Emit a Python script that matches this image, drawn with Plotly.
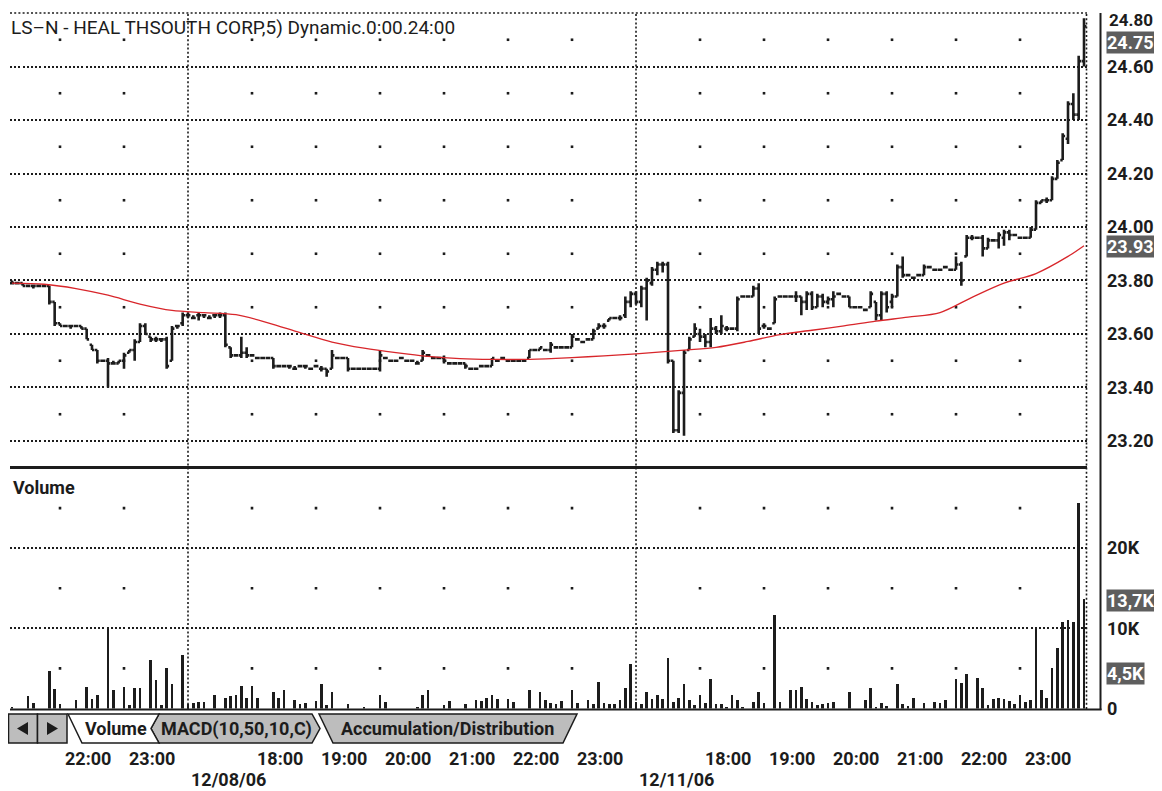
import plotly.graph_objects as go

W, H = 1162, 791
OX, OY = 8, 8  # page body margin of the html page


def xp(px):
    return (px - OX) / W


def yp(py):
    return 1 - (py - OY) / H


# ---------------- data (5-minute bars, index 0..201) ----------------
# day 1 (21:15-23:55), day 2 12/08/06 (17:00-23:55), day 3 12/11/06 (17:00-24:00)
d1_open = [23.79, 23.79, 23.79, 23.78, 23.78, 23.78, 23.78, 23.78, 23.72, 23.64,
           23.63, 23.63, 23.63, 23.63, 23.62, 23.56, 23.54, 23.50, 23.50, 23.49,
           23.49, 23.50, 23.53, 23.54, 23.57, 23.63, 23.59, 23.58, 23.58, 23.58,
           23.50, 23.63, 23.64]
d1_high = [23.80, 23.79, 23.79, 23.78, 23.78, 23.78, 23.78, 23.78, 23.72, 23.64,
           23.63, 23.63, 23.63, 23.63, 23.62, 23.56, 23.54, 23.50, 23.51, 23.50,
           23.50, 23.53, 23.54, 23.58, 23.64, 23.64, 23.59, 23.59, 23.58, 23.59,
           23.63, 23.63, 23.68]
d1_low = [23.79, 23.79, 23.78, 23.78, 23.77, 23.78, 23.78, 23.71, 23.63, 23.63,
          23.63, 23.62, 23.63, 23.62, 23.58, 23.54, 23.49, 23.50, 23.40, 23.49,
          23.49, 23.47, 23.53, 23.50, 23.57, 23.60, 23.57, 23.57, 23.57, 23.47,
          23.50, 23.62, 23.63]
d1_close = [23.79, 23.79, 23.78, 23.78, 23.78, 23.78, 23.78, 23.72, 23.64, 23.63,
            23.63, 23.63, 23.63, 23.62, 23.58, 23.54, 23.50, 23.50, 23.49, 23.49,
            23.50, 23.52, 23.54, 23.57, 23.63, 23.60, 23.58, 23.58, 23.58, 23.48,
            23.62, 23.63, 23.67]

d2_open = [23.67, 23.66, 23.67, 23.67, 23.66, 23.67, 23.67, 23.67, 23.55, 23.52,
           23.52, 23.53, 23.52, 23.51, 23.51, 23.51, 23.51, 23.48, 23.48, 23.48,
           23.47, 23.48, 23.48, 23.47, 23.48, 23.47, 23.47, 23.47, 23.51, 23.51,
           23.51, 23.47, 23.47, 23.47, 23.47, 23.47, 23.47, 23.51, 23.50, 23.50,
           23.51, 23.50, 23.50, 23.49, 23.50, 23.52, 23.51, 23.51, 23.51, 23.49,
           23.49, 23.49, 23.49, 23.47, 23.47, 23.48, 23.48, 23.48, 23.50, 23.51,
           23.50, 23.50, 23.50, 23.50, 23.51, 23.54, 23.54, 23.54, 23.54, 23.55,
           23.55, 23.55, 23.55, 23.58, 23.57, 23.58, 23.58, 23.62, 23.63, 23.65,
           23.66, 23.66, 23.67, 23.72]
d2_high = [23.68, 23.67, 23.68, 23.67, 23.67, 23.67, 23.68, 23.68, 23.55, 23.52,
           23.59, 23.55, 23.52, 23.51, 23.51, 23.51, 23.51, 23.48, 23.48, 23.48,
           23.48, 23.48, 23.48, 23.47, 23.48, 23.48, 23.47, 23.54, 23.51, 23.51,
           23.51, 23.47, 23.47, 23.47, 23.47, 23.47, 23.54, 23.51, 23.50, 23.50,
           23.51, 23.50, 23.50, 23.50, 23.54, 23.52, 23.51, 23.51, 23.52, 23.49,
           23.49, 23.49, 23.49, 23.47, 23.47, 23.48, 23.48, 23.51, 23.50, 23.51,
           23.50, 23.50, 23.50, 23.50, 23.54, 23.54, 23.55, 23.54, 23.57, 23.55,
           23.55, 23.55, 23.60, 23.58, 23.57, 23.58, 23.62, 23.64, 23.64, 23.66,
           23.66, 23.67, 23.74, 23.76]
d2_low = [23.66, 23.66, 23.65, 23.66, 23.66, 23.66, 23.66, 23.55, 23.51, 23.52,
          23.51, 23.51, 23.52, 23.51, 23.51, 23.51, 23.47, 23.48, 23.48, 23.47,
          23.47, 23.48, 23.47, 23.47, 23.48, 23.46, 23.44, 23.47, 23.51, 23.51,
          23.46, 23.47, 23.47, 23.47, 23.47, 23.47, 23.46, 23.51, 23.50, 23.50,
          23.51, 23.50, 23.50, 23.49, 23.50, 23.52, 23.51, 23.51, 23.49, 23.49,
          23.49, 23.49, 23.47, 23.47, 23.47, 23.48, 23.48, 23.48, 23.50, 23.51,
          23.50, 23.50, 23.50, 23.50, 23.51, 23.54, 23.54, 23.54, 23.53, 23.55,
          23.55, 23.55, 23.55, 23.58, 23.57, 23.58, 23.58, 23.62, 23.62, 23.65,
          23.66, 23.65, 23.66, 23.70]
d2_close = [23.67, 23.66, 23.67, 23.67, 23.66, 23.67, 23.67, 23.56, 23.52, 23.52,
            23.53, 23.52, 23.52, 23.51, 23.51, 23.51, 23.48, 23.48, 23.48, 23.48,
            23.47, 23.48, 23.48, 23.47, 23.48, 23.47, 23.46, 23.52, 23.51, 23.51,
            23.47, 23.47, 23.47, 23.47, 23.47, 23.47, 23.52, 23.51, 23.50, 23.50,
            23.51, 23.50, 23.50, 23.49, 23.53, 23.52, 23.51, 23.51, 23.50, 23.49,
            23.49, 23.49, 23.48, 23.47, 23.47, 23.48, 23.48, 23.51, 23.50, 23.51,
            23.50, 23.50, 23.50, 23.50, 23.54, 23.54, 23.55, 23.54, 23.56, 23.55,
            23.55, 23.55, 23.59, 23.58, 23.57, 23.58, 23.61, 23.63, 23.63, 23.66,
            23.66, 23.66, 23.72, 23.75]

d3_open = [23.75, 23.72, 23.77, 23.79, 23.84, 23.86, 23.86, 23.50, 23.24, 23.38,
           23.54, 23.59, 23.60, 23.59, 23.57, 23.62, 23.61, 23.62, 23.62, 23.62,
           23.74, 23.74, 23.74, 23.77, 23.63, 23.62, 23.64, 23.74, 23.74, 23.74,
           23.74, 23.74, 23.72, 23.75, 23.70, 23.74, 23.72, 23.73, 23.75, 23.74,
           23.74, 23.70, 23.70, 23.69, 23.70, 23.72, 23.67, 23.75, 23.72, 23.74,
           23.85, 23.82, 23.81, 23.82, 23.82, 23.85, 23.84, 23.84, 23.85, 23.84,
           23.84, 23.86, 23.89, 23.96, 23.96, 23.96, 23.92, 23.95, 23.95, 23.96,
           23.98, 23.97, 23.96, 23.96, 23.96, 23.99, 24.09, 24.10, 24.10, 24.18,
           24.25, 24.33, 24.46, 24.42, 24.62]
d3_high = [23.76, 23.78, 23.81, 23.85, 23.87, 23.87, 23.87, 23.50, 23.39, 23.54,
           23.59, 23.64, 23.62, 23.60, 23.66, 23.63, 23.67, 23.63, 23.62, 23.74,
           23.74, 23.74, 23.78, 23.79, 23.64, 23.62, 23.74, 23.74, 23.74, 23.74,
           23.76, 23.74, 23.76, 23.76, 23.75, 23.75, 23.74, 23.76, 23.75, 23.74,
           23.74, 23.70, 23.70, 23.69, 23.76, 23.72, 23.76, 23.76, 23.75, 23.86,
           23.89, 23.82, 23.81, 23.82, 23.86, 23.85, 23.84, 23.84, 23.85, 23.84,
           23.89, 23.87, 23.97, 23.97, 23.96, 23.97, 23.96, 23.95, 23.98, 23.99,
           23.99, 23.97, 23.96, 23.96, 24.00, 24.10, 24.10, 24.11, 24.19, 24.25,
           24.35, 24.47, 24.50, 24.64, 24.78]
d3_low = [23.71, 23.70, 23.65, 23.78, 23.82, 23.83, 23.49, 23.23, 23.23, 23.22,
          23.54, 23.59, 23.57, 23.55, 23.55, 23.60, 23.60, 23.61, 23.62, 23.61,
          23.74, 23.74, 23.74, 23.60, 23.62, 23.62, 23.64, 23.74, 23.74, 23.74,
          23.72, 23.67, 23.69, 23.69, 23.70, 23.70, 23.71, 23.70, 23.75, 23.74,
          23.70, 23.70, 23.70, 23.69, 23.70, 23.65, 23.65, 23.68, 23.70, 23.74,
          23.81, 23.82, 23.81, 23.82, 23.82, 23.85, 23.84, 23.84, 23.85, 23.84,
          23.84, 23.78, 23.89, 23.95, 23.96, 23.89, 23.92, 23.95, 23.92, 23.93,
          23.95, 23.97, 23.96, 23.96, 23.96, 23.99, 24.09, 24.09, 24.10, 24.18,
          24.25, 24.31, 24.40, 24.40, 24.60]
d3_close = [23.72, 23.77, 23.80, 23.84, 23.86, 23.86, 23.50, 23.24, 23.38, 23.53,
            23.58, 23.62, 23.59, 23.57, 23.62, 23.61, 23.63, 23.62, 23.62, 23.73,
            23.74, 23.74, 23.77, 23.62, 23.63, 23.62, 23.73, 23.74, 23.74, 23.74,
            23.74, 23.72, 23.75, 23.70, 23.74, 23.72, 23.73, 23.74, 23.75, 23.74,
            23.70, 23.70, 23.70, 23.69, 23.75, 23.67, 23.75, 23.70, 23.74, 23.85,
            23.82, 23.82, 23.81, 23.82, 23.85, 23.85, 23.84, 23.84, 23.85, 23.84,
            23.86, 23.80, 23.96, 23.96, 23.96, 23.92, 23.95, 23.95, 23.97, 23.98,
            23.97, 23.97, 23.96, 23.96, 23.99, 24.09, 24.10, 24.10, 24.18, 24.24,
            24.34, 24.46, 24.42, 24.62, 24.75]

d1_volume = [250, 0, 0, 1600, 650, 0, 0, 4650, 2450, 500,
             0, 0, 1000, 0, 2650, 1150, 1650, 0, 9900, 2300,
             0, 2650, 450, 2500, 2500, 0, 6000, 3500, 375, 5000,
             3000, 0, 6650]
d2_volume = [600, 650, 750, 830, 0, 1650, 0, 1250, 1580, 1650,
             2850, 1300, 2850, 1300, 0, 0, 2100, 1300, 2250, 0,
             1080, 580, 650, 0, 900, 3000, 375, 2000, 0, 0,
             580, 0, 0, 250, 0, 0, 1650, 830, 0, 0,
             0, 0, 0, 250, 1650, 2300, 0, 0, 420, 900,
             0, 0, 580, 0, 1000, 900, 1300, 1650, 1150, 0,
             1150, 750, 0, 0, 2300, 0, 2000, 1000, 650, 580,
             900, 0, 2250, 650, 0, 1000, 500, 3330, 650, 500,
             580, 1000, 2500, 5500]
d3_volume = [830, 500, 2000, 1150, 1650, 1150, 6330, 830, 1300, 3000,
             1080, 420, 1650, 650, 3670, 580, 580, 250, 1650, 1000,
             170, 0, 830, 2000, 650, 0, 11670, 830, 0, 2250,
             2250, 2670, 1150, 830, 420, 500, 650, 830, 0, 0,
             2000, 0, 0, 1000, 2500, 250, 650, 330, 0, 3000,
             500, 330, 1300, 0, 650, 0, 830, 650, 1000, 0,
             3670, 3170, 4330, 0, 3830, 2500, 420, 1150, 1300, 1150,
             900, 500, 1650, 830, 1000, 9900, 2330, 1330, 5000, 7500,
             10830, 11000, 10830, 25670, 13700]

# moving average (red line), read at sampled bar indices
ma_idx = [0, 6, 12, 18, 24, 30, 36, 42, 48, 54, 60, 66, 72, 78, 84, 90, 96, 102,
          108, 114, 120, 126, 132, 138, 144, 150, 156, 162, 168, 174, 180, 186,
          192, 198, 201]
ma_val = [23.790, 23.786, 23.770, 23.745, 23.712, 23.688, 23.680, 23.672, 23.642,
          23.605, 23.570, 23.547, 23.530, 23.516, 23.508, 23.505, 23.505, 23.509,
          23.515, 23.522, 23.530, 23.540, 23.550, 23.572, 23.598, 23.614, 23.630,
          23.648, 23.663, 23.680, 23.737, 23.790, 23.826, 23.890, 23.930]

# axis ticks / labels
hour_ticks = [9, 21, 45, 57, 69, 81, 93, 105, 129, 141, 153, 165, 177, 189]
hour_labels = ["22:00", "23:00", "18:00", "19:00", "20:00", "21:00", "22:00",
               "23:00", "18:00", "19:00", "20:00", "21:00", "22:00", "23:00"]
day_starts = [33, 117]
day_labels = ["12/08/06", "12/11/06"]
price_ticks = [23.2, 23.4, 23.6, 23.8, 24.0, 24.2, 24.4, 24.6, 24.8]
price_half = [23.3, 23.5, 23.7, 23.9, 24.1, 24.3, 24.5, 24.7]
vol_ticks = [0, 10000, 20000]
vol_labels = ["0", "10K", "20K"]
vol_half = [5000, 15000, 25000]
last_price_label = "24.75"
ma_label = "23.93"
last_vol_label = "13,7K"
avg_vol_label = "4,5K"
title_text = "LS\u2013N - HEAL THSOUTH CORP,5) Dynamic.0:00.24:00"
tab_labels = ["Volume", "MACD(10,50,10,C)", "Accumulation/Distribution"]

opens = d1_open + d2_open + d3_open
highs = d1_high + d2_high + d3_high
lows = d1_low + d2_low + d3_low
closes = d1_close + d2_close + d3_close
volume = d1_volume + d2_volume + d3_volume
idx = list(range(len(opens)))

FONT = "Roboto"
INK = "#1c1c1c"

fig = go.Figure()

# grid dots (hour columns x half levels)
gx, gy = [], []
for t in hour_ticks:
    for lv in price_half:
        gx.append(t)
        gy.append(lv)
fig.add_trace(go.Scatter(x=gx, y=gy, mode="markers", xaxis="x", yaxis="y",
                         marker=dict(symbol="square", size=2.6, color=INK),
                         hoverinfo="skip", showlegend=False))
vx, vy = [], []
for t in hour_ticks:
    for lv in vol_half:
        vx.append(t)
        vy.append(lv)
fig.add_trace(go.Scatter(x=vx, y=vy, mode="markers", xaxis="x2", yaxis="y2",
                         marker=dict(symbol="square", size=2.6, color=INK),
                         hoverinfo="skip", showlegend=False))

fig.add_trace(go.Scatter(x=ma_idx, y=ma_val, mode="lines", xaxis="x", yaxis="y",
                         line=dict(color="#d8262b", width=1.3, shape="spline",
                                   smoothing=0.9),
                         hoverinfo="skip", showlegend=False))

fig.add_trace(go.Ohlc(x=idx, open=opens, high=highs, low=lows, close=closes,
                      xaxis="x", yaxis="y", tickwidth=0.45,
                      increasing=dict(line=dict(color=INK, width=2.6)),
                      decreasing=dict(line=dict(color=INK, width=2.6)),
                      hoverinfo="skip", showlegend=False))

fig.add_trace(go.Bar(x=idx, y=volume, width=0.5, xaxis="x2", yaxis="y2",
                     marker=dict(color=INK, line=dict(width=0)),
                     hoverinfo="skip", showlegend=False))

x_dom = [xp(10), xp(1087)]
x_rng = [-0.375, 201.56]
grid_common = dict(showgrid=True, gridcolor=INK, gridwidth=1.6,
                   griddash="2px,2.2px", zeroline=False, showline=False,
                   ticks="", side="right", fixedrange=True, automargin=False,
                   tickfont=dict(family=FONT, size=18, color=INK, weight="bold"),
                   ticklabelstandoff=19)

# the top price label sits on the frame edge, so it is written as an annotation
price_ticktext = ["%.2f" % v for v in price_ticks[:-1]] + [""]

fig.update_layout(
    width=W, height=H,
    margin=dict(l=0, r=0, t=0, b=0, pad=0),
    paper_bgcolor="white", plot_bgcolor="white",
    showlegend=False, hovermode=False, bargap=0,
    font=dict(family=FONT, color=INK),
    xaxis=dict(domain=x_dom, range=x_rng, anchor="y", showgrid=False,
               zeroline=False, showticklabels=False, ticks="", automargin=False,
               rangeslider=dict(visible=False), fixedrange=True),
    xaxis2=dict(domain=x_dom, range=x_rng, anchor="y2", matches="x",
                showgrid=False, zeroline=False, showticklabels=False,
                ticks="", automargin=False, fixedrange=True),
    yaxis=dict(domain=[yp(466), yp(13)], range=[23.1065, 24.80], anchor="x",
               tickvals=price_ticks, ticktext=price_ticktext, **grid_common),
    yaxis2=dict(domain=[yp(708.5), yp(468)], range=[0, 30000], anchor="x2",
                tickvals=vol_ticks, ticktext=vol_labels, **grid_common),
)

shapes = []
dot = dict(color=INK, width=1.6, dash="2px,2.2px")
for d in day_starts:
    shapes.append(dict(type="line", xref="x", yref="paper", x0=d, x1=d,
                       y0=yp(709), y1=yp(13), line=dot, layer="below"))
# top border dotted line
shapes.append(dict(type="line", xref="paper", yref="paper", x0=xp(10),
                   x1=xp(1087), y0=yp(13), y1=yp(13), line=dot))
# right border dotted line
shapes.append(dict(type="line", xref="paper", yref="paper", x0=xp(1086.5),
                   x1=xp(1086.5), y0=yp(709), y1=yp(13), line=dot))
# separator between panels
shapes.append(dict(type="line", xref="paper", yref="paper", x0=xp(10),
                   x1=xp(1087), y0=yp(467.5), y1=yp(467.5),
                   line=dict(color=INK, width=3)))
# frame: right and bottom solid lines
shapes.append(dict(type="line", xref="paper", yref="paper", x0=xp(1100.5),
                   x1=xp(1100.5), y0=yp(710), y1=yp(13),
                   line=dict(color=INK, width=2)))
shapes.append(dict(type="line", xref="paper", yref="paper", x0=xp(10),
                   x1=xp(1101.5), y0=yp(709.5), y1=yp(709.5),
                   line=dict(color=INK, width=2)))


def poly(points):
    s = "M " + " L ".join("%.5f,%.5f" % (xp(a), yp(b)) for a, b in points) + " Z"
    return s


TAB_GRAY = "#bdbdbd"
T0, T1 = 714, 743
TM = (T0 + T1) / 2
# arrow buttons
for bx0, bx1 in [(8.5, 37.5), (37.5, 67)]:
    shapes.append(dict(type="rect", xref="paper", yref="paper", x0=xp(bx0),
                       x1=xp(bx1), y0=yp(T1), y1=yp(T0), fillcolor=TAB_GRAY,
                       line=dict(color=INK, width=1.5)))
shapes.append(dict(type="path", xref="paper", yref="paper",
                   path=poly([(17, TM), (28, TM - 6.5), (28, TM + 6.5)]),
                   fillcolor=INK, line=dict(width=0)))
shapes.append(dict(type="path", xref="paper", yref="paper",
                   path=poly([(58, TM), (47, TM - 6.5), (47, TM + 6.5)]),
                   fillcolor=INK, line=dict(width=0)))
# tabs
shapes.append(dict(type="path", xref="paper", yref="paper",
                   path=poly([(319, T0), (333, T1), (563, T1), (577, T0)]),
                   fillcolor=TAB_GRAY, line=dict(color=INK, width=1.5)))
shapes.append(dict(type="path", xref="paper", yref="paper",
                   path=poly([(159, T0), (151, TM), (159, T1), (312, T1),
                              (320, TM), (312, T0)]),
                   fillcolor=TAB_GRAY, line=dict(color=INK, width=1.5)))
shapes.append(dict(type="path", xref="paper", yref="paper",
                   path=poly([(68, T0), (82, T1), (159, T1), (151, TM),
                              (159, T0)]),
                   fillcolor="white", line=dict(color=INK, width=1.5)))

annotations = []
bold = dict(family=FONT, size=18, color=INK, weight="bold")
annotations.append(dict(xref="paper", yref="paper", x=xp(9), y=yp(28),
                        xanchor="left", yanchor="middle", showarrow=False,
                        text=title_text,
                        font=dict(family=FONT, size=19, color=INK)))
annotations.append(dict(xref="paper", yref="paper", x=xp(11), y=yp(487),
                        xanchor="left", yanchor="middle", showarrow=False,
                        text="Volume", font=bold))
# top price label, kept just inside the figure's top edge
annotations.append(dict(xref="paper", yref="paper", x=xp(1107), y=1.0,
                        xanchor="left", yanchor="top", showarrow=False,
                        text="%.2f" % price_ticks[-1],
                        font=dict(family=FONT, size=17, color=INK,
                                  weight="bold")))
for t, lab in zip(hour_ticks, hour_labels):
    annotations.append(dict(xref="x2", yref="paper", x=t, y=yp(758),
                            xanchor="left", yanchor="middle", xshift=3,
                            showarrow=False, text=lab, font=bold))
for t, lab in zip(day_starts, day_labels):
    annotations.append(dict(xref="x2", yref="paper", x=t, y=yp(779),
                            xanchor="left", yanchor="middle", xshift=1,
                            showarrow=False, text=lab, font=bold))
for cx, lab in zip([116, 236, 447], tab_labels):
    annotations.append(dict(xref="paper", yref="paper", x=xp(cx), y=yp(TM),
                            xanchor="center", yanchor="middle",
                            showarrow=False, text=lab, font=bold))
box_font = dict(family=FONT, size=18, color="white", weight="bold")
for lab, cy in [(last_price_label, 42), (ma_label, 246),
                (last_vol_label, 600), (avg_vol_label, 673)]:
    annotations.append(dict(xref="paper", yref="paper", x=xp(1106), y=yp(cy),
                            xanchor="left", yanchor="middle", showarrow=False,
                            text=lab, font=box_font, bgcolor="#5e5e5e",
                            borderpad=0))

fig.update_layout(shapes=shapes, annotations=annotations)

fig.write_html("out.html", config={"displayModeBar": False})
